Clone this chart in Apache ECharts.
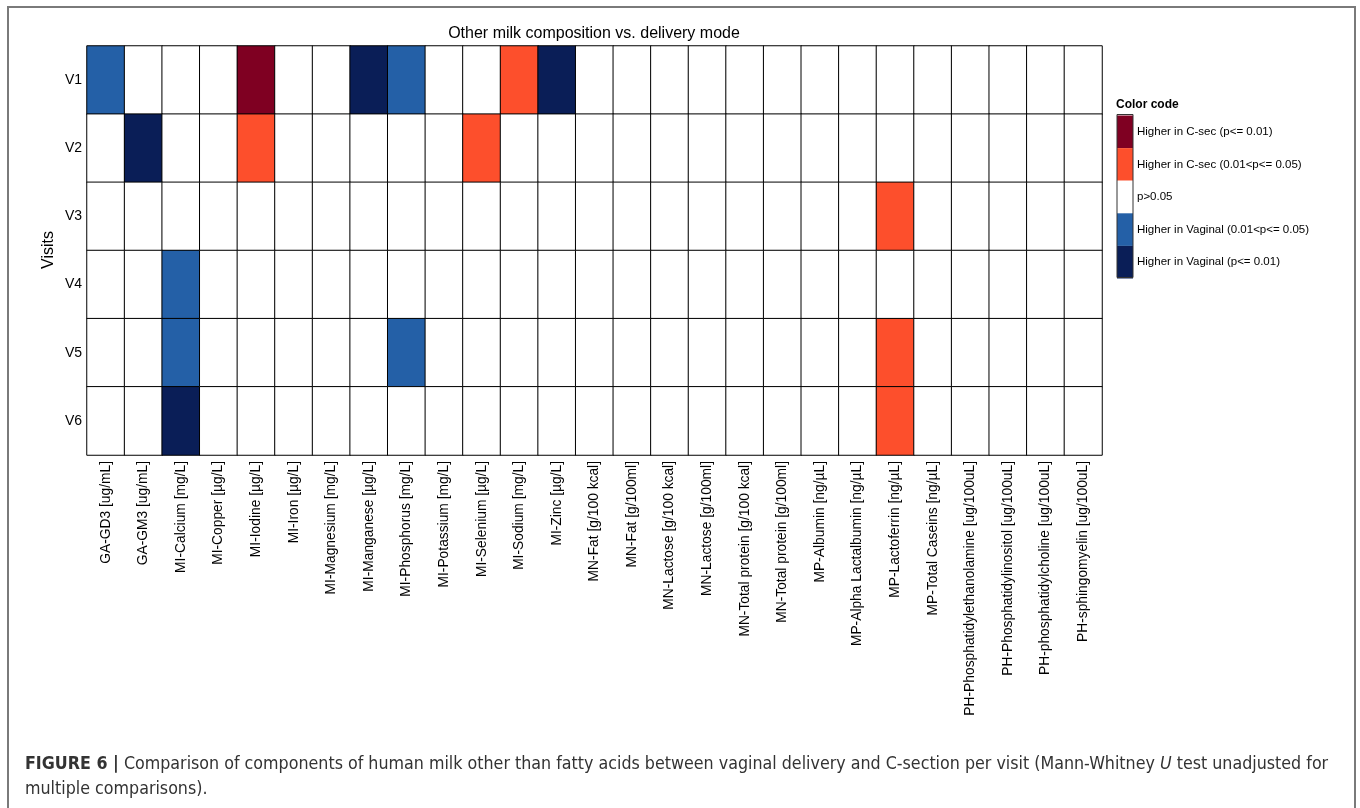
<!DOCTYPE html>
<html><head><meta charset="utf-8">
<script src="https://cdn.jsdelivr.net/npm/echarts@6/dist/echarts.min.js"></script>
<style>html,body{margin:0;padding:0;background:#fff}#c{width:1360px;height:808px}</style>
</head><body><div id="c"></div>
<script>
const components = ["GA-GD3 [ug/mL]","GA-GM3 [ug/mL]","MI-Calcium [mg/L]","MI-Copper [µg/L]","MI-Iodine [µg/L]","MI-Iron [µg/L]","MI-Magnesium [mg/L]","MI-Manganese [µg/L]","MI-Phosphorus [mg/L]","MI-Potassium [mg/L]","MI-Selenium [µg/L]","MI-Sodium [mg/L]","MI-Zinc [µg/L]","MN-Fat [g/100 kcal]","MN-Fat [g/100ml]","MN-Lactose [g/100 kcal]","MN-Lactose [g/100ml]","MN-Total protein [g/100 kcal]","MN-Total protein [g/100ml]","MP-Albumin [ng/µL]","MP-Alpha Lactalbumin [ng/µL]","MP-Lactoferrin [ng/µL]","MP-Total Caseins [ng/µL]","PH-Phosphatidylethanolamine [ug/100uL]","PH-Phosphatidylinositol [ug/100uL]","PH-phosphatidylcholine [ug/100uL]","PH-sphingomyelin [ug/100uL]"];
const visits = ["V1","V2","V3","V4","V5","V6"];
// codes: 2 = Higher in C-sec (p<=0.01), 1 = Higher in C-sec (0.01<p<=0.05), 0 = p>0.05,
// -1 = Higher in Vaginal (0.01<p<=0.05), -2 = Higher in Vaginal (p<=0.01)
const v1 = [-1,0,0,0,2,0,0,-2,-1,0,0,1,-2,0,0,0,0,0,0,0,0,0,0,0,0,0,0];
const v2 = [0,-2,0,0,1,0,0,0,0,0,1,0,0,0,0,0,0,0,0,0,0,0,0,0,0,0,0];
const v3 = [0,0,0,0,0,0,0,0,0,0,0,0,0,0,0,0,0,0,0,0,0,1,0,0,0,0,0];
const v4 = [0,0,-1,0,0,0,0,0,0,0,0,0,0,0,0,0,0,0,0,0,0,0,0,0,0,0,0];
const v5 = [0,0,-1,0,0,0,0,0,-1,0,0,0,0,0,0,0,0,0,0,0,0,1,0,0,0,0,0];
const v6 = [0,0,-2,0,0,0,0,0,0,0,0,0,0,0,0,0,0,0,0,0,0,1,0,0,0,0,0];
const rows = [v1,v2,v3,v4,v5,v6];
const codeLabels = ["Higher in C-sec (p<= 0.01)","Higher in C-sec (0.01<p<= 0.05)","p>0.05","Higher in Vaginal (0.01<p<= 0.05)","Higher in Vaginal (p<= 0.01)"];
const codeValues = [2,1,0,-1,-2];
const codeColors = ["#7f0022","#fd4f2c","#ffffff","#2460a7","#0a1e57"];

const data = [];
rows.forEach((r, yi) => r.forEach((v, xi) => data.push([xi, yi, v])));

const FONT = "'Liberation Sans', Arial, sans-serif";
const CAP = "'DejaVu Sans Condensed', 'Liberation Sans Narrow', sans-serif";
const chart = echarts.init(document.getElementById('c'), null, {renderer:'canvas'});
chart.setOption({
  animation:false,
  backgroundColor:'#fff',
  title:{text:'Other milk composition vs. delivery mode', left:589, textAlign:'center', top:21,
    textStyle:{fontFamily:FONT, fontSize:16, fontWeight:'normal', color:'#000'}},
  grid:{left:87, right:258, top:46, bottom:353},
  xAxis:{type:'category', data:components, axisTick:{show:false}, axisLine:{show:false},
    splitLine:{show:false},
    axisLabel:{rotate:90, interval:0, margin:6, fontFamily:FONT, fontSize:13.8, color:'#000'}},
  yAxis:{type:'category', data:visits, inverse:true, axisTick:{show:false}, axisLine:{show:false},
    axisLabel:{margin:5, fontFamily:FONT, fontSize:14, color:'#000'}},
  visualMap:{type:'piecewise', show:true, dimension:2, orient:'vertical', align:'left', padding:0,
    left:1117, top:115.5, itemWidth:16, itemHeight:32.6, itemGap:0, itemSymbol:'rect', textGap:4,
    selectedMode:false, hoverLink:false,
    textStyle:{fontFamily:FONT, fontSize:11.5, color:'#000'},
    pieces: codeValues.map((v,i)=>({value:v, label:codeLabels[i], color:codeColors[i]}))},
  graphic:[
    {type:'rect', shape:{x:8, y:7, width:1347, height:900}, style:{fill:'none', stroke:'#7a7a7a', lineWidth:2}, silent:true},
    {type:'rect', shape:{x:1117, y:114.5, width:16, height:163}, style:{fill:'none', stroke:'#333', lineWidth:1}, silent:true, z:100},
    {type:'text', x:49, y:250, rotation:Math.PI/2, style:{text:'Visits', font:"16px "+FONT, fill:'#000', align:'center', verticalAlign:'middle'}},
    {type:'text', left:1116, top:99, style:{text:'Color code', font:"bold 12px "+FONT, fill:'#000'}},
    {type:'text', left:25, top:752, style:{
      text:'{b|FIGURE 6 |} Comparison of components of human milk other than fatty acids between vaginal delivery and C-section per visit (Mann-Whitney {i|U} test unadjusted for\nmultiple comparisons).',
      font:"17.7px "+CAP, fill:'#333', lineHeight:25,
      rich:{b:{fontWeight:'bold', fontSize:17.7, fontFamily:CAP, fill:'#333'},
            i:{fontStyle:'italic', fontSize:17.7, fontFamily:CAP, fill:'#333'}}}}
  ],
  series:[{type:'heatmap', data:data,
    itemStyle:{borderColor:'#000', borderWidth:1},
    emphasis:{disabled:true}}]
});
</script></body></html>
